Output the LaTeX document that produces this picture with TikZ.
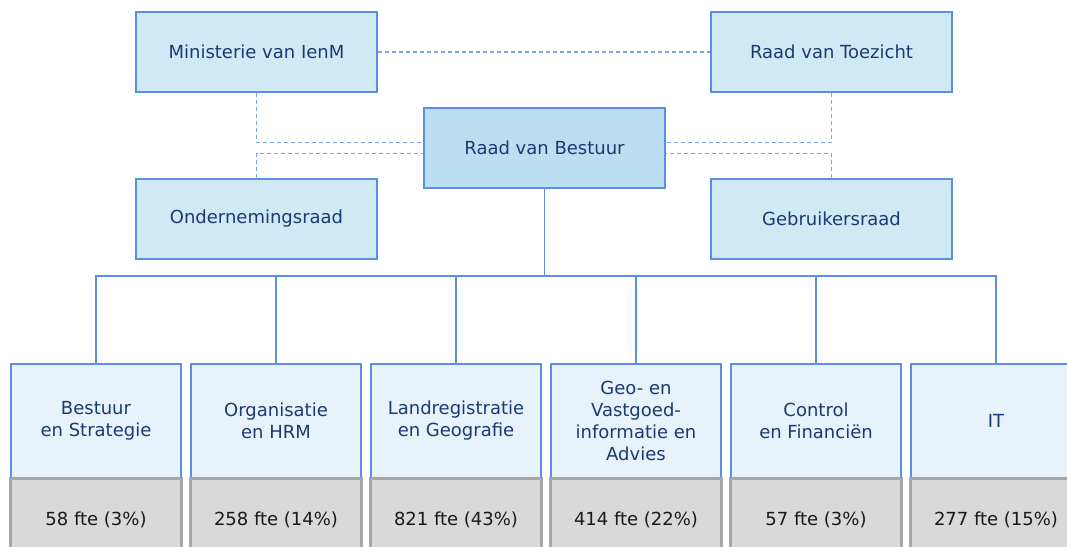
\documentclass[tikz,border=0pt]{standalone}
\usepackage{fontspec}
\setmainfont{DejaVu Sans}
\usetikzlibrary{calc}
\definecolor{navy}{HTML}{1B3A72}
\definecolor{bord}{HTML}{5B8EE6}
\definecolor{topfill}{HTML}{D1E8F5}
\definecolor{rvbfill}{HTML}{BBDFF1}
\definecolor{botfill}{HTML}{E7F2FB}
\definecolor{greyfill}{HTML}{D9D9D9}
\definecolor{greybord}{HTML}{A6A6A6}
\definecolor{dashcol}{HTML}{7BA6EC}
\tikzset{
  topbox/.style={draw=bord, line width=1.5pt*0.75, fill=topfill, text=navy,
    minimum width=241*0.75pt, minimum height=80*0.75pt, inner sep=0pt,
    font=\fontsize{13.5}{16.5}\selectfont},
  deptbox/.style={draw=bord, line width=2*0.75pt, fill=botfill, text=navy,
    minimum width=170*0.75pt, minimum height=114*0.75pt, inner sep=0pt, align=center,
    font=\fontsize{13.5}{16.5}\selectfont},
  ftebox/.style={draw=greybord, line width=3*0.75pt, fill=greyfill, text=black!90,
    minimum width=171*0.75pt, minimum height=84*0.75pt, inner sep=0pt,
    font=\fontsize{13.5}{16.5}\selectfont},
  conn/.style={draw=bord, line width=1.5*0.75pt},
  dconn/.style={draw=dashcol, line width=1.2*0.75pt, dash pattern=on 4*0.75pt off 3*0.75pt},
}
\begin{document}
\begin{tikzpicture}[x=0.75pt,y=-0.75pt]
\useasboundingbox (0,0) rectangle (1067,546);
\clip (0,0) rectangle (1067,546);
% top level
\node[topbox] (min) at (256.5,52) {Ministerie van IenM};
\node[topbox] (rvt) at (831.5,52) {Raad van Toezicht};
\node[topbox, fill=rvbfill] (rvb) at (544.5,148) {Raad van Bestuur};
\node[topbox] (ond) at (256.5,219) {Ondernemingsraad};
\node[topbox] (geb) at (831.5,219) {Gebruikersraad};
% dashed relations
\draw[dconn] (min.east) -- (rvt.west);
\draw[dconn] (min.south) |- ($(rvb.west)+(0,-5.5)$);
\draw[dconn] (ond.north) |- ($(rvb.west)+(0,5.5)$);
\draw[dconn] (rvt.south) |- ($(rvb.east)+(0,-5.5)$);
\draw[dconn] (geb.north) |- ($(rvb.east)+(0,5.5)$);
% departments
\node[deptbox] (d1) at (96,421) {Bestuur\\en Strategie};
\node[deptbox] (d2) at (276,421) {Organisatie\\en HRM};
\node[deptbox] (d3) at (456,421) {Landregistratie\\en Geografie};
\node[deptbox] (d4) at (636,421) {Geo- en\\Vastgoed-\\informatie en\\Advies};
\node[deptbox] (d5) at (816,421) {Control\\en Financiën};
\node[deptbox] (d6) at (996,421) {IT};
\node[ftebox] (f1) at (96,520) {58 fte (3\%)};
\node[ftebox] (f2) at (276,520) {258 fte (14\%)};
\node[ftebox] (f3) at (456,520) {821 fte (43\%)};
\node[ftebox] (f4) at (636,520) {414 fte (22\%)};
\node[ftebox] (f5) at (816,520) {57 fte (3\%)};
\node[ftebox] (f6) at (996,520) {277 fte (15\%)};
% tree
\coordinate (bus) at (544.5,276);
\draw[conn] (rvb.south) -- (bus);
\foreach \d in {d1,d2,d3,d4,d5,d6}{
  \draw[conn] (bus) -| (\d.north);
}
\end{tikzpicture}
\end{document}
